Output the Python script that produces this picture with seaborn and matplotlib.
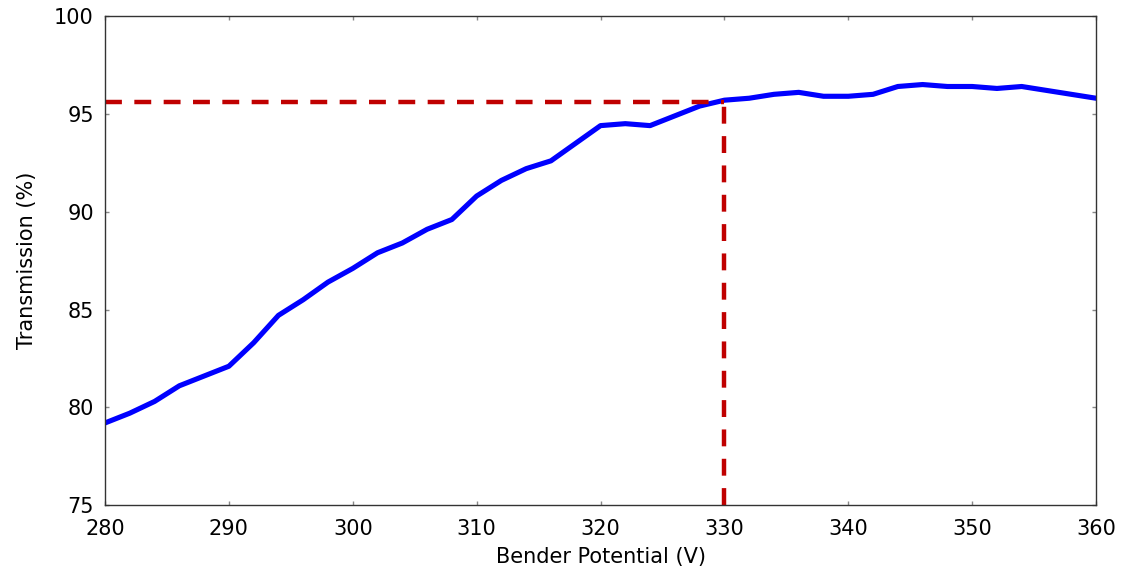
import pandas as pd
import matplotlib
matplotlib.use('Agg')
import matplotlib.pyplot as plt
import seaborn as sns

# Dữ liệu
bender_v = [280, 282, 284, 286, 288, 290, 292, 294, 296, 298, 300, 302, 304, 306, 308,
            310, 312, 314, 316, 318, 320, 322, 324, 326, 328, 330, 332, 334, 336, 338,
            340, 342, 344, 346, 348, 350, 352, 354, 356, 358, 360]
transmission = [79.2, 79.7, 80.3, 81.1, 81.6, 82.1, 83.3, 84.7, 85.5, 86.4, 87.1, 87.9, 88.4, 89.1, 89.6,
                90.8, 91.6, 92.2, 92.6, 93.5, 94.4, 94.5, 94.4, 94.9, 95.4, 95.7, 95.8, 96.0, 96.1, 95.9,
                95.9, 96.0, 96.4, 96.5, 96.4, 96.4, 96.3, 96.4, 96.2, 96.0, 95.8]
marker_v = 330
marker_t = 95.6

df = pd.DataFrame({'Bender Potential (V)': bender_v, 'Transmission (%)': transmission})

sns.set_theme(style="white")
plt.rcParams['font.family'] = ['DejaVu Sans']

fig = plt.figure(figsize=(11.23, 5.74), dpi=100)
ax = fig.add_axes([0.0935, 0.12, 0.8825, 0.852])

sns.lineplot(data=df, x='Bender Potential (V)', y='Transmission (%)', ax=ax,
             color='#0000ff', linewidth=3.7)
# Đường đánh dấu nét đứt
ax.plot([280, marker_v], [marker_t, marker_t], color='#c00000', linewidth=3.2,
        linestyle=(0, (3.8, 2.8)))
ax.plot([marker_v, marker_v], [75, marker_t], color='#c00000', linewidth=3.2,
        linestyle=(0, (3.8, 2.8)))

ax.set_xlim(280, 360)
ax.set_ylim(75, 100)
ax.set_xticks(range(280, 361, 10))
ax.set_yticks(range(75, 101, 5))
ax.tick_params(direction='in', length=3, width=1, color='#888888', labelsize=15,
               labelcolor='black', bottom=True, left=True, top=True, right=True)
ax.tick_params(axis='x', pad=10)
ax.tick_params(axis='y', pad=8)
ax.set_xlabel('Bender Potential (V)', fontsize=15, labelpad=6, color='black')
ax.set_ylabel('Transmission (%)', fontsize=15, labelpad=12, color='black')
for s in ax.spines.values():
    s.set_color('#333333')
    s.set_linewidth(1)

fig.savefig('out.png', dpi=100)
